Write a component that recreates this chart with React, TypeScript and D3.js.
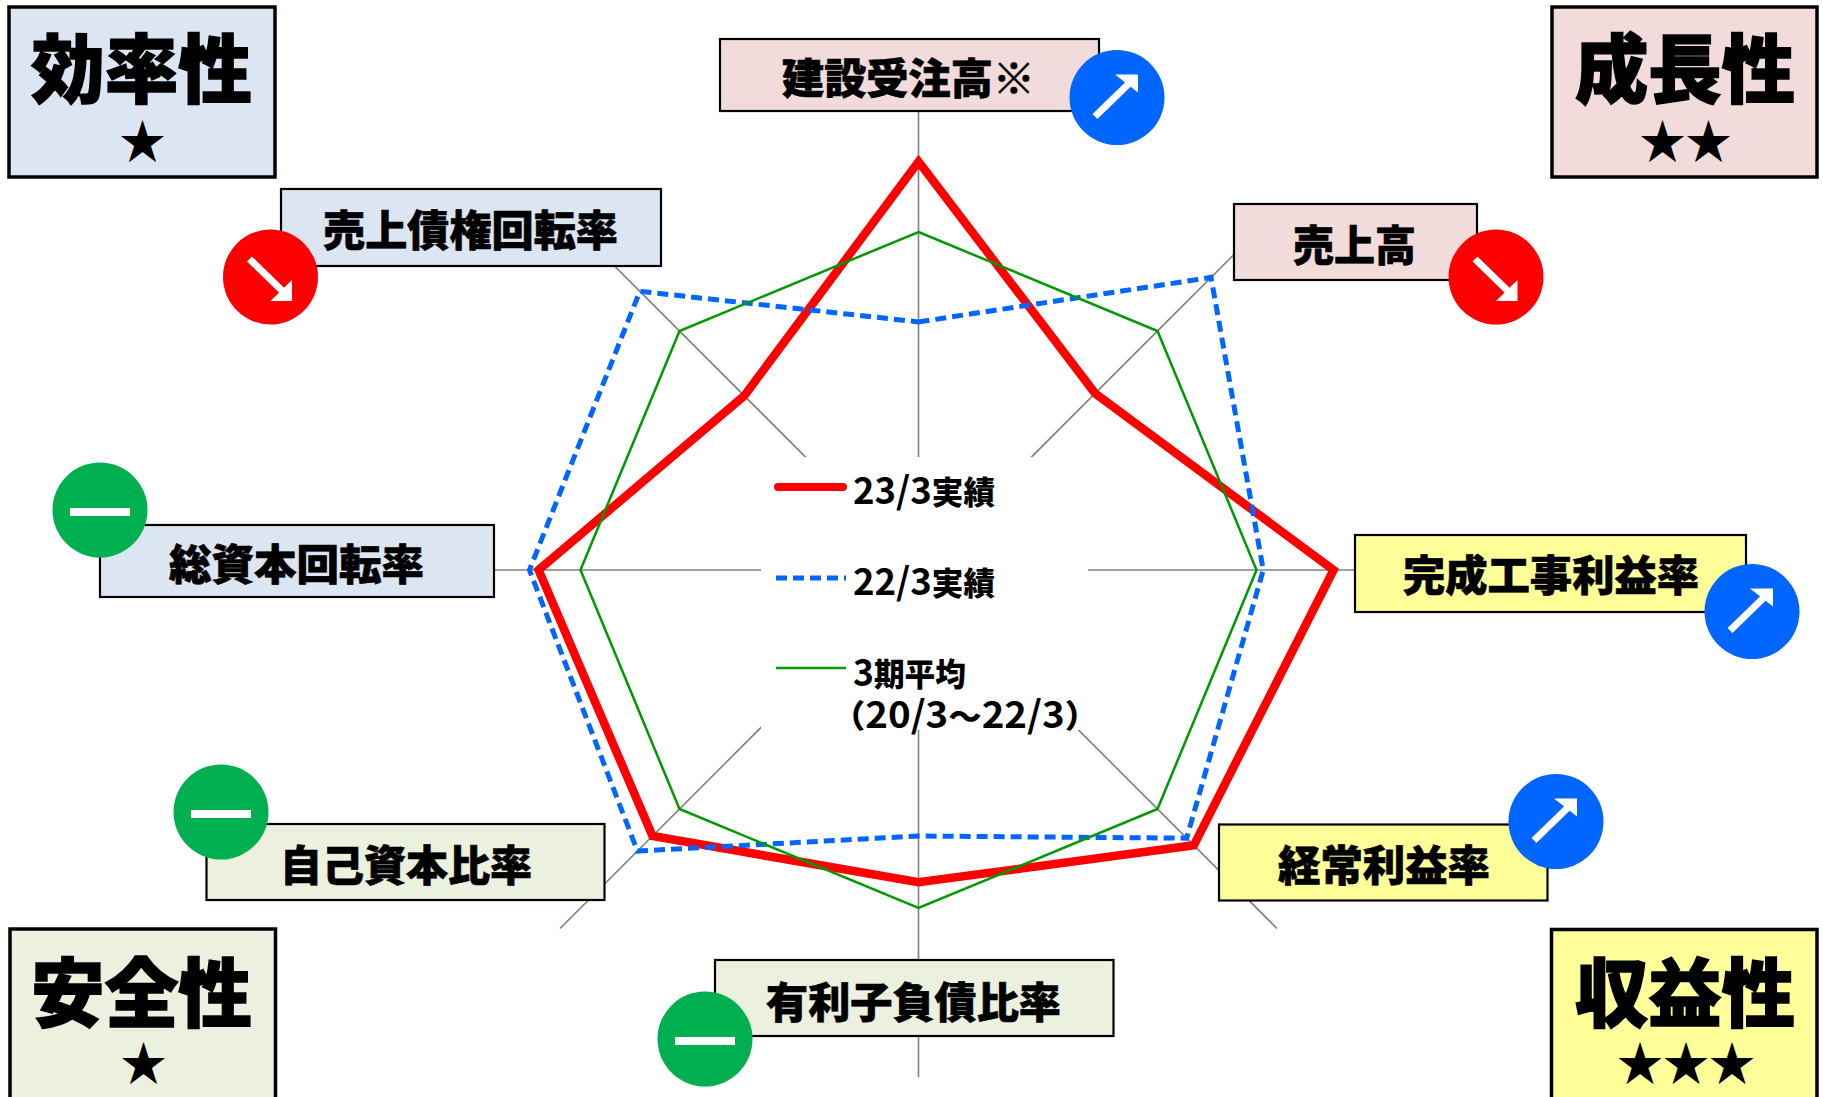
import React from "react";
import * as d3 from "d3";

// Radar axes, clockwise from the top
const categories = [
  "建設受注高※",
  "売上高",
  "完成工事利益率",
  "経常利益率",
  "有利子負債比率",
  "自己資本比率",
  "総資本回転率",
  "売上債権回転率",
];
const actual2303 = [1.208, 0.739, 1.228, 1.152, 0.924, 1.113, 1.124, 0.729];
const actual2203 = [0.734, 1.224, 1.02, 1.122, 0.787, 1.176, 1.151, 1.166];
const average3y = [1, 1, 1, 1, 1, 1, 1, 1];
const trends = ["up", "down", "up", "up", "flat", "flat", "flat", "down"];

const groupNames = ["効率性", "成長性", "安全性", "収益性"];
const groupStars = ["★", "★★", "★", "★★★"];
const legendLabels = ["23/3実績", "22/3実績", "3期平均", "（20/3～22/3）"];

const FONT = '"Noto Sans CJK JP", "Noto Sans", sans-serif';
const W = 1823;
const H = 1097;
const cx = 918.5;
const cy = 570;

const BLUE_BG = "#DCE6F2";
const PINK_BG = "#F2DCDB";
const GREEN_BG = "#EBF1DE";
const YELLOW_BG = "#FFFF99";

const RED = "#FF0000";
const BLUE = "#0066FF";
const GREEN = "#009900";
const BADGE_GREEN = "#00B050";

// box: x0, y0, x1, y1; text: left, right, baseline; badge: cx, cy
const labelLayout = [
  { box: [720, 39, 1099, 111], text: [782, 1035, 94], badge: [1117, 97.5], fill: PINK_BG },
  { box: [1234, 204, 1477, 280], text: [1293, 1416, 261], badge: [1496, 277], fill: PINK_BG },
  { box: [1355, 535, 1746, 612], text: [1403, 1699, 591], badge: [1752, 611.5], fill: YELLOW_BG },
  { box: [1219, 824.5, 1547.5, 900.5], text: [1278, 1490, 881], badge: [1556, 821.5], fill: YELLOW_BG },
  { box: [715, 960, 1113.5, 1036], text: [766, 1061, 1018], badge: [705, 1039], fill: GREEN_BG },
  { box: [206.5, 824, 604.5, 900], text: [280, 532, 881], badge: [221, 812], fill: GREEN_BG },
  { box: [100, 525, 494, 597], text: [169, 424, 580], badge: [100, 510], fill: BLUE_BG },
  { box: [281, 189, 661, 266], text: [323, 618, 246], badge: [270.5, 277], fill: BLUE_BG },
];

const groupLayout = [
  { box: [9, 7, 275, 177], text: [31, 252, 97], star: [142.5, 158], fill: BLUE_BG },
  { box: [1552, 7, 1817, 177], text: [1575, 1795, 97], star: [1685.5, 158], fill: PINK_BG },
  { box: [10, 929, 275.5, 1110], text: [31, 252, 1021], star: [143.5, 1080], fill: GREEN_BG },
  { box: [1551.5, 929.5, 1817, 1110], text: [1575, 1795, 1021], star: [1686, 1080], fill: YELLOW_BG },
];

const r = d3.scaleLinear().domain([0, 1.5]).range([0, 507]);
const angle = d3
  .scalePoint<number>()
  .domain(d3.range(categories.length + 1))
  .range([0, 2 * Math.PI]);

const radarLine = d3
  .lineRadial<number>()
  .angle((_, i) => angle(i) as number)
  .radius((d) => r(d))
  .curve(d3.curveLinearClosed);

function FitText({ x0, x1, y, size, weight = 0.7, children }: any) {
  return (
    <text
      x={x0}
      y={y}
      fontSize={size}
      fontWeight={900}
      fontFamily={FONT}
      textLength={x1 - x0}
      lengthAdjust="spacingAndGlyphs"
      fill="#000"
      stroke="#000"
      strokeWidth={weight}
    >
      {children}
    </text>
  );
}

// digits run taller than the kanji in the legend font
function LegendText({ x0, x1, y, label }: any) {
  const runs = label.split(/([0-9/]+)/).filter((s: string) => s.length > 0);
  return (
    <text
      x={x0}
      y={y}
      fontFamily={FONT}
      textLength={x1 - x0}
      lengthAdjust="spacingAndGlyphs"
      fill="#000"
    >
      {runs.map((s: string, i: number) =>
        /[0-9]/.test(s) ? (
          <tspan key={i} fontSize={37} fontWeight={700}>
            {s}
          </tspan>
        ) : (
          <tspan key={i} fontSize={32} fontWeight={900}>
            {s}
          </tspan>
        )
      )}
    </text>
  );
}

function Badge({ trend, x, y }: { trend: string; x: number; y: number }) {
  if (trend === "flat") {
    return (
      <g>
        <circle cx={x} cy={y} r={47.5} fill={BADGE_GREEN} />
        <rect x={x - 30} y={y - 2} width={60} height={8} fill="#fff" />
      </g>
    );
  }
  if (trend === "up") {
    return (
      <g>
        <circle cx={x} cy={y} r={47.5} fill={BLUE} />
        <line x1={x - 22} y1={y + 19} x2={x + 14} y2={y - 16} stroke="#fff" strokeWidth={7} />
        <path d={d3.line()([[x - 2, y - 23], [x + 21, y - 23], [x + 21, y - 5]]) + "Z"} fill="#fff" />
      </g>
    );
  }
  return (
    <g>
      <circle cx={x} cy={y} r={47.5} fill={RED} />
      <line x1={x - 21} y1={y - 18} x2={x + 14} y2={y + 16} stroke="#fff" strokeWidth={7} />
      <path d={d3.line()([[x, y + 24], [x + 21.5, y + 24], [x + 21.5, y + 3]]) + "Z"} fill="#fff" />
    </g>
  );
}

export default function App() {
  return (
    <svg
      width={W}
      height={H}
      viewBox={`0 0 ${W} ${H}`}
      style={{ position: "absolute", left: 0, top: 0, background: "#fff" }}
    >
      {/* spokes */}
      <g transform={`translate(${cx},${cy})`}>
        {categories.map((c, i) => {
          const [px, py] = d3.pointRadial(angle(i) as number, r(1.5));
          return <line key={c} x1={0} y1={0} x2={px} y2={py} stroke="#808080" strokeWidth={1.6} />;
        })}
      </g>
      {/* legend knocks the middle of the spokes out */}
      <rect x={761} y={457} width={327} height={273} fill="#fff" />

      <g transform={`translate(${cx},${cy})`} fill="none" strokeLinejoin="miter">
        <path d={radarLine(actual2303) as string} stroke={RED} strokeWidth={8.5} />
        <path d={radarLine(actual2203) as string} stroke={BLUE} strokeWidth={5} strokeDasharray="11 6" />
        <path d={radarLine(average3y) as string} stroke={GREEN} strokeWidth={2.5} />
      </g>

      {/* legend */}
      <line x1={778} x2={843} y1={487} y2={487} stroke={RED} strokeWidth={8} strokeLinecap="round" />
      <line x1={776} x2={846} y1={578} y2={578} stroke={BLUE} strokeWidth={5} strokeDasharray="11 6" />
      <line x1={776} x2={846} y1={668} y2={668} stroke={GREEN} strokeWidth={2.5} />
      <LegendText x0={853} x1={995} y={504} label={legendLabels[0]} />
      <LegendText x0={853} x1={995} y={595} label={legendLabels[1]} />
      <LegendText x0={853} x1={966} y={686} label={legendLabels[2]} />
      <LegendText x0={832} x1={1098} y={728} label={legendLabels[3]} />

      {/* axis label boxes */}
      {categories.map((c, i) => {
        const { box, text, fill } = labelLayout[i];
        return (
          <g key={c}>
            <rect
              x={box[0]}
              y={box[1]}
              width={box[2] - box[0]}
              height={box[3] - box[1]}
              fill={fill}
              stroke="#000"
              strokeWidth={2.2}
            />
            <FitText x0={text[0]} x1={text[1]} y={text[2]} size={42}>{c}</FitText>
          </g>
        );
      })}
      {categories.map((c, i) => (
        <Badge key={c} trend={trends[i]} x={labelLayout[i].badge[0]} y={labelLayout[i].badge[1]} />
      ))}

      {/* corner group boxes */}
      {groupNames.map((g, i) => {
        const { box, text, star, fill } = groupLayout[i];
        return (
          <g key={g}>
            <rect
              x={box[0]}
              y={box[1]}
              width={box[2] - box[0]}
              height={box[3] - box[1]}
              fill={fill}
              stroke="#000"
              strokeWidth={3.5}
            />
            <FitText x0={text[0]} x1={text[1]} y={text[2]} size={75} weight={1.5}>{g}</FitText>
            <text
              x={star[0]}
              y={star[1]}
              textAnchor="middle"
              fontSize={46}
              fontWeight={900}
              fontFamily={FONT}
              fill="#000"
            >
              {groupStars[i]}
            </text>
          </g>
        );
      })}
    </svg>
  );
}
